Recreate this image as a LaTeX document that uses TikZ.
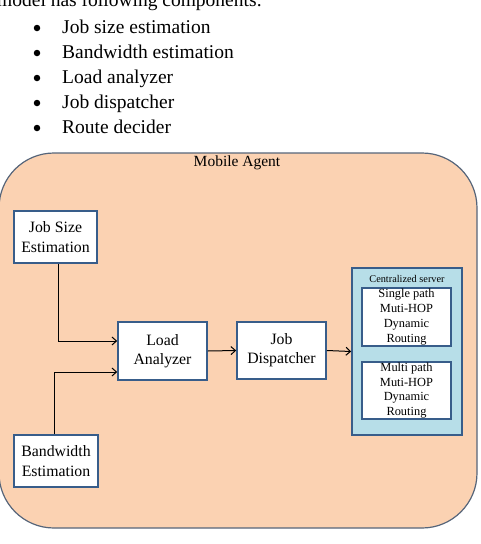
\documentclass[tikz,border=0pt]{standalone}
\usepackage{fontspec}
\setmainfont{Liberation Serif}
\usetikzlibrary{arrows.meta}
\definecolor{peach}{HTML}{FBD2B2}
\definecolor{agentline}{HTML}{56657A}
\definecolor{boxline}{HTML}{385D8A}
\definecolor{srvfill}{HTML}{B7DEE8}
\tikzset{
  blockbox/.style={draw=boxline, line width=1.6pt, fill=white, align=center,
    inner sep=0pt, font=\fontsize{15.8}{19.3}\selectfont},
  innerbox/.style={draw=boxline, line width=1.6pt, fill=white, align=center,
    inner sep=0pt, minimum width=89pt, font=\fontsize{12.4}{14.7}\selectfont},
  arr/.style={line width=1pt, -{Straight Barb[length=4.5pt,width=8pt]}},
  listtxt/.style={anchor=base west, inner sep=0pt, font=\fontsize{19.5}{25}\selectfont},
  bulletdot/.style={circle, fill=black, inner sep=0pt, minimum size=6.5pt},
}
\begin{document}
\begin{tikzpicture}[x=1pt,y=-1pt]
\useasboundingbox (0,0) rectangle (480,544);
% text above
\node[listtxt] (intro) at (-3,6) {model has following components:};
\foreach \t [count=\i] in {Job size estimation,Bandwidth estimation,Load analyzer,Job dispatcher,Route decider}{
  \node[bulletdot] (b\i) at (37,{3+25*\i}) {};
  \node[listtxt] (l\i) at (62,{8+25*\i}) {\t};
}
% outer agent
\draw[draw=agentline, line width=1.2pt, fill=peach, rounded corners=55pt] (-1,153) rectangle (477,528);
\node[font=\fontsize{15.5}{18}\selectfont] (agent) at (237,163) {Mobile Agent};
% blocks
\node[blockbox, minimum width=83pt, minimum height=52pt] (js) at (55.5,237) {Job Size\\Estimation};
\node[blockbox, minimum width=84pt, minimum height=52pt] (bw) at (56,461) {Bandwidth\\Estimation};
\node[blockbox, minimum width=89pt, minimum height=58pt] (la) at (162.5,351) {Load\\Analyzer};
\node[blockbox, minimum width=89pt, minimum height=57pt] (jd) at (281.5,350.5) {Job\\Dispatcher};
\node[draw=boxline, line width=1.6pt, fill=srvfill, minimum width=110pt, minimum height=167pt, inner sep=0pt] (srv) at (407,351.5) {};
\node[font=\fontsize{10.3}{12}\selectfont] (srvlbl) at (407,279) {Centralized server};
\node[innerbox, minimum height=58pt] (sp) at (406.5,317) {Single path\\Muti-HOP\\Dynamic\\Routing};
\node[innerbox, minimum height=57pt] (mp) at (406.5,390.5) {Multi path\\Muti-HOP\\Dynamic\\Routing};
% connectors
\draw[arr] ([xshift=2.5pt]js.south) |- ([yshift=10pt]la.west);
\draw[arr] ([xshift=-2pt]bw.north) |- ([yshift=-21pt]la.west);
\draw[arr] (la.east) -- (jd.west);
\draw[arr] (jd.east) -- (srv.west);
\end{tikzpicture}
\end{document}
